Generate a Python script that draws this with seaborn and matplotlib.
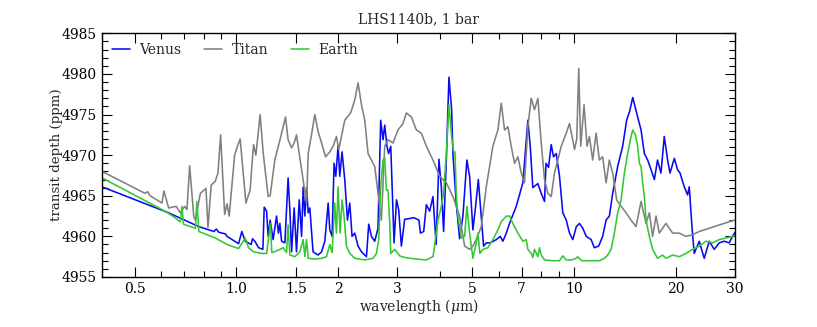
import numpy as np
import pandas as pd
import matplotlib
matplotlib.use("Agg")
import matplotlib.pyplot as plt
import matplotlib.ticker as mticker
import seaborn as sns

# ---------------- data (wavelength in micron, transit depth in ppm) ----------------
titan_wl = [0.400, 0.536, 0.546, 0.555, 0.602, 0.610, 0.630, 0.663, 0.682, 0.703, 0.714, 0.727, 0.748,
            0.756, 0.782, 0.8125, 0.824, 0.842, 0.866, 0.882, 0.898, 0.923, 0.938, 0.952, 0.988, 1.000,
            1.026, 1.067, 1.098, 1.124, 1.142, 1.176, 1.201, 1.242, 1.259, 1.2995, 1.354, 1.398, 1.423,
            1.457, 1.483, 1.507, 1.535, 1.588, 1.614, 1.632, 1.669, 1.707, 1.746, 1.788, 1.837, 1.891,
            1.934, 1.979, 2.010, 2.094, 2.180, 2.242, 2.293, 2.347, 2.400, 2.455, 2.512, 2.569, 2.658,
            2.689, 2.750, 2.813, 2.911, 3.011, 3.115, 3.188, 3.299, 3.413, 3.532, 3.654, 3.822, 4.000,
            4.187, 4.379, 4.584, 4.743, 4.907, 5.018, 5.136, 5.314, 5.498, 5.751, 5.951, 6.090, 6.228,
            6.372, 6.519, 6.667, 6.820, 6.980, 7.138, 7.301, 7.471, 7.641, 7.816, 7.998, 8.180, 8.367,
            8.562, 8.756, 8.956, 9.166, 9.484, 9.70, 10.04, 10.19, 10.33, 10.47, 10.71, 10.93, 11.11,
            11.36, 11.63, 11.89, 12.16, 12.45, 12.73, 13.02, 13.38, 13.79, 14.27, 14.76, 15.27, 15.80,
            16.35, 16.72, 17.10, 17.50, 17.89, 18.73, 19.60, 20.51, 21.47, 22.45, 23.50, 25.16, 26.93,
            28.83, 30.0]
titan_ppm = [4968.0, 4965.3, 4965.5, 4965.0, 4964.1, 4965.6, 4963.5, 4963.7, 4962.9, 4963.7, 4963.3, 4968.7,
             4962.4, 4962.0, 4965.3, 4965.9, 4961.1, 4966.3, 4966.8, 4967.8, 4972.5, 4962.7, 4964.0, 4962.5,
             4970.0, 4970.7, 4972.0, 4964.1, 4965.7, 4971.3, 4970.0, 4975.0, 4970.2, 4964.9, 4965.0, 4969.4,
             4972.3, 4974.7, 4971.9, 4970.9, 4971.5, 4972.5, 4970.2, 4966.1, 4964.1, 4970.2, 4972.5, 4975.0,
             4972.9, 4971.5, 4969.8, 4970.4, 4971.1, 4972.3, 4970.7, 4974.3, 4975.2, 4976.8, 4978.9, 4976.2,
             4974.3, 4970.2, 4969.4, 4968.6, 4963.7, 4962.0, 4971.1, 4971.9, 4971.5, 4973.1, 4973.9, 4975.2,
             4974.7, 4973.1, 4972.7, 4971.1, 4969.4, 4967.4, 4966.6, 4964.9, 4962.5, 4958.8, 4958.4, 4958.8,
             4959.6, 4961.2, 4966.1, 4971.1, 4973.1, 4976.4, 4973.1, 4973.5, 4971.1, 4969.0, 4969.8, 4967.8,
             4966.6, 4973.5, 4977.0, 4975.6, 4977.0, 4971.5, 4967.0, 4965.3, 4964.9, 4967.8, 4969.4, 4971.1,
             4972.7, 4973.9, 4970.7, 4972.0, 4980.7, 4971.1, 4976.2, 4971.1, 4972.3, 4969.4, 4972.7, 4969.4,
             4969.8, 4966.6, 4969.4, 4967.8, 4964.5, 4963.7, 4962.9, 4962.0, 4961.2, 4964.3, 4961.6, 4962.9,
             4960.0, 4962.5, 4960.4, 4961.6, 4960.4, 4960.4, 4960.0, 4960.2, 4960.6, 4961.0, 4961.4, 4961.8,
             4962.0]

venus_wl = [0.400, 0.630, 0.774, 0.858, 0.872, 0.888, 0.928, 0.938, 1.015, 1.038, 1.062, 1.106, 1.116,
            1.134, 1.164, 1.198, 1.209, 1.229, 1.242, 1.259, 1.285, 1.315, 1.332, 1.345, 1.361, 1.392,
            1.423, 1.440, 1.457, 1.483, 1.507, 1.535, 1.560, 1.577, 1.595, 1.614, 1.632, 1.650, 1.687,
            1.746, 1.788, 1.828, 1.870, 1.891, 1.921, 1.947, 1.970, 2.001, 2.024, 2.056, 2.094, 2.133,
            2.167, 2.201, 2.242, 2.293, 2.347, 2.428, 2.466, 2.512, 2.569, 2.627, 2.676, 2.719, 2.750,
            2.793, 2.823, 2.866, 2.931, 2.980, 3.025, 3.081, 3.151, 3.261, 3.352, 3.474, 3.508, 3.588,
            3.654, 3.737, 3.822, 3.906, 3.981, 4.046, 4.110, 4.187, 4.262, 4.341, 4.379, 4.479, 4.584,
            4.688, 4.817, 4.907, 5.018, 5.112, 5.207, 5.264, 5.398, 5.498, 5.651, 5.886, 6.049, 6.157,
            6.303, 6.444, 6.745, 7.057, 7.301, 7.421, 7.551, 7.816, 7.998, 8.180, 8.264, 8.406, 8.562,
            8.697, 8.859, 9.06, 9.266, 9.486, 9.70, 9.920, 10.16, 10.38, 10.62, 10.87, 11.24, 11.49,
            11.83, 12.16, 12.45, 12.73, 13.02, 13.47, 13.94, 14.32, 14.62, 14.93, 15.20, 15.44, 15.80,
            16.16, 16.53, 16.92, 17.30, 17.68, 18.10, 18.51, 18.94, 19.25, 19.83, 20.27, 20.61, 21.22,
            21.70, 21.95, 22.36, 22.71, 23.50, 24.31, 25.16, 26.03, 26.93, 27.86, 28.83, 29.48, 30.0]
venus_ppm = [4966.1, 4962.9, 4961.2, 4960.6, 4960.9, 4960.5, 4960.3, 4960.0, 4959.1, 4960.6, 4959.4, 4959.0,
             4959.7, 4959.4, 4958.6, 4958.4, 4963.6, 4963.1, 4960.0, 4962.0, 4959.6, 4962.5, 4960.4, 4961.6,
             4959.4, 4959.2, 4967.2, 4963.3, 4958.1, 4963.5, 4958.1, 4964.5, 4960.0, 4966.1, 4962.5, 4966.0,
             4962.9, 4963.5, 4958.1, 4957.7, 4958.1, 4959.4, 4964.1, 4960.8, 4960.0, 4969.0, 4967.4, 4971.1,
             4967.4, 4970.4, 4967.0, 4962.0, 4964.1, 4960.0, 4960.4, 4958.8, 4958.1, 4957.5, 4961.5, 4960.0,
             4959.4, 4961.0, 4974.3, 4971.9, 4973.7, 4971.1, 4970.2, 4971.1, 4959.2, 4964.5, 4963.3, 4958.8,
             4962.1, 4962.2, 4962.3, 4962.0, 4960.4, 4960.6, 4963.9, 4963.1, 4964.9, 4959.0, 4969.5, 4966.1,
             4960.6, 4969.4, 4979.6, 4975.6, 4970.2, 4964.1, 4959.7, 4962.5, 4969.4, 4967.4, 4960.8, 4963.7,
             4967.0, 4964.5, 4958.8, 4959.2, 4959.2, 4959.6, 4960.0, 4959.4, 4960.4, 4961.6, 4963.7, 4966.6,
             4974.3, 4971.1, 4966.0, 4966.5, 4965.3, 4964.3, 4969.0, 4968.5, 4971.3, 4969.8, 4970.2, 4967.4,
             4962.9, 4962.0, 4960.4, 4959.6, 4961.2, 4961.6, 4961.0, 4960.0, 4959.6, 4958.6, 4958.8, 4960.0,
             4962.0, 4962.5, 4965.3, 4968.6, 4971.1, 4974.3, 4975.4, 4977.1, 4975.8, 4974.7, 4973.1, 4970.2,
             4969.4, 4968.2, 4967.0, 4969.4, 4967.8, 4972.3, 4969.4, 4967.8, 4969.6, 4968.2, 4967.8, 4966.1,
             4965.1, 4966.1, 4961.2, 4957.9, 4959.4, 4957.3, 4959.4, 4958.4, 4959.2, 4959.4, 4959.2, 4960.0,
             4960.5]

earth_wl = [0.400, 0.602, 0.637, 0.682, 0.690, 0.697, 0.756, 0.764, 0.774, 0.866, 0.938, 1.015, 1.062,
            1.086, 1.124, 1.190, 1.229, 1.262, 1.273, 1.315, 1.376, 1.408, 1.423, 1.440, 1.490, 1.542,
            1.577, 1.595, 1.614, 1.632, 1.707, 1.788, 1.849, 1.891, 1.921, 1.956, 1.979, 2.001, 2.028,
            2.056, 2.084, 2.118, 2.167, 2.242, 2.400, 2.540, 2.599, 2.640, 2.676, 2.719, 2.750, 2.782,
            2.813, 2.846, 2.866, 2.945, 3.011, 3.046, 3.151, 3.261, 3.413, 3.654, 3.822, 3.840, 3.955,
            4.046, 4.110, 4.187, 4.262, 4.341, 4.400, 4.441, 4.479, 4.531, 4.637, 4.743, 4.817, 4.907,
            5.018, 5.112, 5.193, 5.264, 5.373, 5.558, 5.751, 5.951, 6.090, 6.303, 6.444, 6.590, 6.820,
            7.057, 7.221, 7.301, 7.471, 7.551, 7.641, 7.816, 7.906, 7.998, 8.180, 8.64, 9.06, 9.266,
            9.486, 9.83, 10.16, 10.25, 10.54, 11.89, 12.30, 12.59, 12.88, 13.17, 13.47, 13.79, 14.10,
            14.42, 14.76, 14.93, 15.20, 15.44, 15.62, 15.80, 15.97, 16.16, 16.35, 16.72, 17.10, 17.68,
            18.30, 18.73, 19.60, 20.51, 21.47, 22.45, 23.50, 24.60, 25.73, 26.93, 28.19, 29.48, 30.0]
earth_ppm = [4967.2, 4963.3, 4962.7, 4961.8, 4963.7, 4961.5, 4961.0, 4964.3, 4960.6, 4959.8, 4959.0, 4958.5,
             4959.8, 4958.6, 4958.1, 4957.9, 4957.9, 4961.6, 4958.0, 4958.2, 4958.6, 4958.0, 4961.4, 4957.7,
             4957.5, 4958.1, 4959.6, 4957.5, 4959.6, 4957.3, 4957.2, 4957.3, 4957.5, 4959.0, 4958.0, 4964.1,
             4960.4, 4966.1, 4960.4, 4964.5, 4962.5, 4958.8, 4957.9, 4957.3, 4957.1, 4957.3, 4957.9, 4959.6,
             4966.1, 4969.4, 4969.7, 4965.7, 4965.7, 4961.6, 4957.9, 4958.4, 4957.9, 4957.6, 4957.4, 4957.3,
             4957.2, 4957.1, 4957.5, 4958.0, 4962.0, 4963.7, 4965.3, 4970.2, 4976.2, 4972.3, 4970.4, 4970.4,
             4965.3, 4962.5, 4959.8, 4960.0, 4963.7, 4960.4, 4957.3, 4958.8, 4960.4, 4957.9, 4958.4, 4958.6,
             4959.6, 4960.8, 4961.8, 4962.5, 4962.5, 4961.6, 4960.4, 4959.4, 4959.6, 4958.4, 4957.9, 4957.4,
             4958.4, 4957.5, 4958.6, 4957.7, 4957.1, 4957.0, 4957.0, 4957.6, 4957.1, 4957.1, 4957.3, 4957.5,
             4957.0, 4957.0, 4957.3, 4957.7, 4958.4, 4960.4, 4962.9, 4964.5, 4967.8, 4970.2, 4972.3, 4973.1,
             4972.5, 4971.1, 4969.0, 4968.6, 4966.6, 4964.9, 4962.0, 4960.0, 4958.4, 4957.3, 4957.7, 4957.3,
             4957.7, 4957.5, 4957.9, 4958.4, 4958.8, 4959.4, 4959.2, 4959.6, 4959.8, 4960.0, 4960.1]

series_names = ["Venus", "Titan", "Earth"]
series_colors = ["#0a0af0", "#808080", "#33c833"]

xtick_vals = [0.5, 1.0, 1.5, 2, 3, 5, 7, 10, 20, 30]
xtick_labels = ["0.5", "1.0", "1.5", "2", "3", "5", "7", "10", "20", "30"]
ytick_vals = [4955, 4960, 4965, 4970, 4975, 4980, 4985]

# ---------------- plotting ----------------
sns.set_style("ticks")
plt.rcParams["font.family"] = ["DejaVu Serif"]
plt.rcParams["mathtext.fontset"] = "dejavuserif"
plt.rcParams["xtick.direction"] = "in"
plt.rcParams["ytick.direction"] = "in"

fig, ax = plt.subplots(figsize=(8.17, 3.27), dpi=100)
fig.subplots_adjust(left=0.1249, right=0.8997, bottom=0.153, top=0.898)

data = {"Venus": (venus_wl, venus_ppm), "Titan": (titan_wl, titan_ppm), "Earth": (earth_wl, earth_ppm)}
for name, col in zip(series_names, series_colors):
    wl, ppm = data[name]
    df = pd.DataFrame({"wl": wl, "ppm": ppm})
    sns.lineplot(data=df, x="wl", y="ppm", ax=ax, color=col, lw=1.15, label=name,
                 estimator=None, sort=False)

ax.set_xscale("log")
ax.set_xlim(0.4, 30)
ax.set_ylim(4955, 4985)
ax.xaxis.set_major_locator(mticker.FixedLocator(xtick_vals))
ax.xaxis.set_major_formatter(mticker.FixedFormatter(xtick_labels))
ax.xaxis.set_minor_locator(mticker.LogLocator(base=10, subs=np.arange(2, 10), numticks=20))
ax.xaxis.set_minor_formatter(mticker.NullFormatter())
ax.yaxis.set_major_locator(mticker.FixedLocator(ytick_vals))
ax.yaxis.set_minor_locator(mticker.MultipleLocator(1))

ax.tick_params(which="both", direction="in", top=True, right=True, labelsize=10, width=0.8, colors="black")
ax.tick_params(which="major", length=7)
ax.tick_params(which="minor", length=4)
for sp in ax.spines.values():
    sp.set_visible(True)
    sp.set_linewidth(1.0)
    sp.set_color("black")

ax.set_xlabel(r"wavelength ($\mu$m)", fontsize=10, labelpad=1)
ax.set_ylabel("transit depth (ppm)", fontsize=9.6, labelpad=-1)
ax.set_title("LHS1140b, 1 bar", fontsize=10, pad=7)

ax.legend(loc="upper left", ncol=3, frameon=False, fontsize=10, handlelength=1.3,
          handletextpad=0.7, columnspacing=1.6, borderaxespad=0.3)

fig.savefig("out.png", dpi=100)
